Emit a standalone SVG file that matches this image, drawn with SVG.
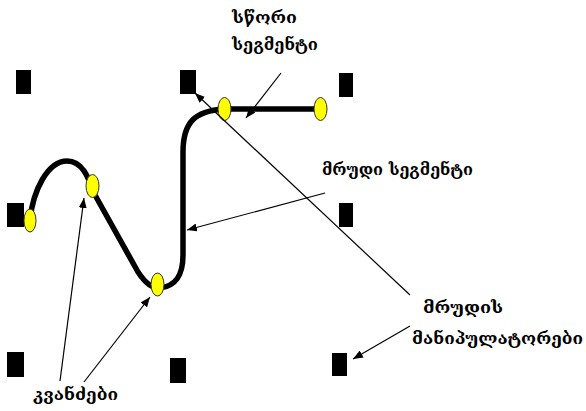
<svg xmlns="http://www.w3.org/2000/svg" width="586" height="411" viewBox="0 0 586 411">
<style>
.m{fill:#000}
.n{fill:#ffff00;stroke:#333;stroke-width:1}
.c{fill:none;stroke:#000;stroke-width:5.5;stroke-linecap:round;stroke-linejoin:round}
.a{fill:none;stroke:#000;stroke-width:1.2;marker-end:url(#ah)}
.t{font-family:"DejaVu Serif","DejaVu Sans",serif;font-weight:bold;font-size:16px;fill:#000}
</style>
<defs>
<marker id="ah" viewBox="0 0 10 8" refX="10" refY="4" markerWidth="10" markerHeight="8" markerUnits="userSpaceOnUse" orient="auto">
<path d="M0,0 L10,4 L0,8 Z" fill="#000"/>
</marker>
</defs>
<g id="manipulators">
<rect id="m1" class="m" x="16" y="70" width="15" height="24"/>
<rect id="m2" class="m" x="180" y="70" width="16" height="24"/>
<rect id="m3" class="m" x="339" y="73" width="14" height="24"/>
<rect id="m4" class="m" x="7" y="203" width="17" height="24"/>
<rect id="m5" class="m" x="339" y="203" width="14" height="24"/>
<rect id="m6" class="m" x="7" y="352" width="17" height="25"/>
<rect id="m7" class="m" x="170" y="358" width="16" height="25"/>
<rect id="m8" class="m" x="332" y="353" width="15" height="23"/>
</g>
<g id="curve">
<path class="c" d="M30,220 C33,190 48,161 67,161 C82,161 88,176 95,195 L138,272 C146,284 152,288 160,288 C176,286 183,275 183,255 L183,152 C183,122 195,111 224,109 L320,109"/>
</g>
<g id="nodes">
<ellipse id="n1" class="n" cx="30" cy="220.5" rx="6" ry="11.5"/>
<ellipse id="n2" class="n" cx="92.5" cy="186" rx="6.5" ry="11.5"/>
<ellipse id="n3" class="n" cx="157.5" cy="284.5" rx="6.5" ry="11.5"/>
<ellipse id="n4" class="n" cx="224.5" cy="109" rx="6.5" ry="11.5"/>
<ellipse id="n5" class="n" cx="320.5" cy="109" rx="6.5" ry="11.5"/>
</g>
<g id="connectors">
<line class="a" x1="281" y1="73" x2="246" y2="118"/>
<line class="a" x1="325" y1="193" x2="187" y2="230"/>
<line class="a" x1="410" y1="295" x2="195" y2="93"/>
<line class="a" x1="410" y1="326" x2="353" y2="359"/>
<line class="a" x1="60" y1="381" x2="84" y2="198"/>
<line class="a" x1="84" y1="382" x2="150" y2="297"/>
</g>
<g id="labels">
<text class="t" x="232" y="23" textLength="65" lengthAdjust="spacingAndGlyphs">სწორი</text>
<text class="t" x="232" y="50" textLength="86" lengthAdjust="spacingAndGlyphs">სეგმენტი</text>
<text class="t" x="322" y="175" textLength="151" lengthAdjust="spacingAndGlyphs">მრუდი სეგმენტი</text>
<text class="t" x="423" y="313" textLength="80" lengthAdjust="spacingAndGlyphs">მრუდის</text>
<text class="t" x="412" y="344" textLength="171" lengthAdjust="spacingAndGlyphs">მანიპულატორები</text>
<text class="t" x="33" y="400" textLength="85" lengthAdjust="spacingAndGlyphs">კვანძები</text>
</g>
</svg>
